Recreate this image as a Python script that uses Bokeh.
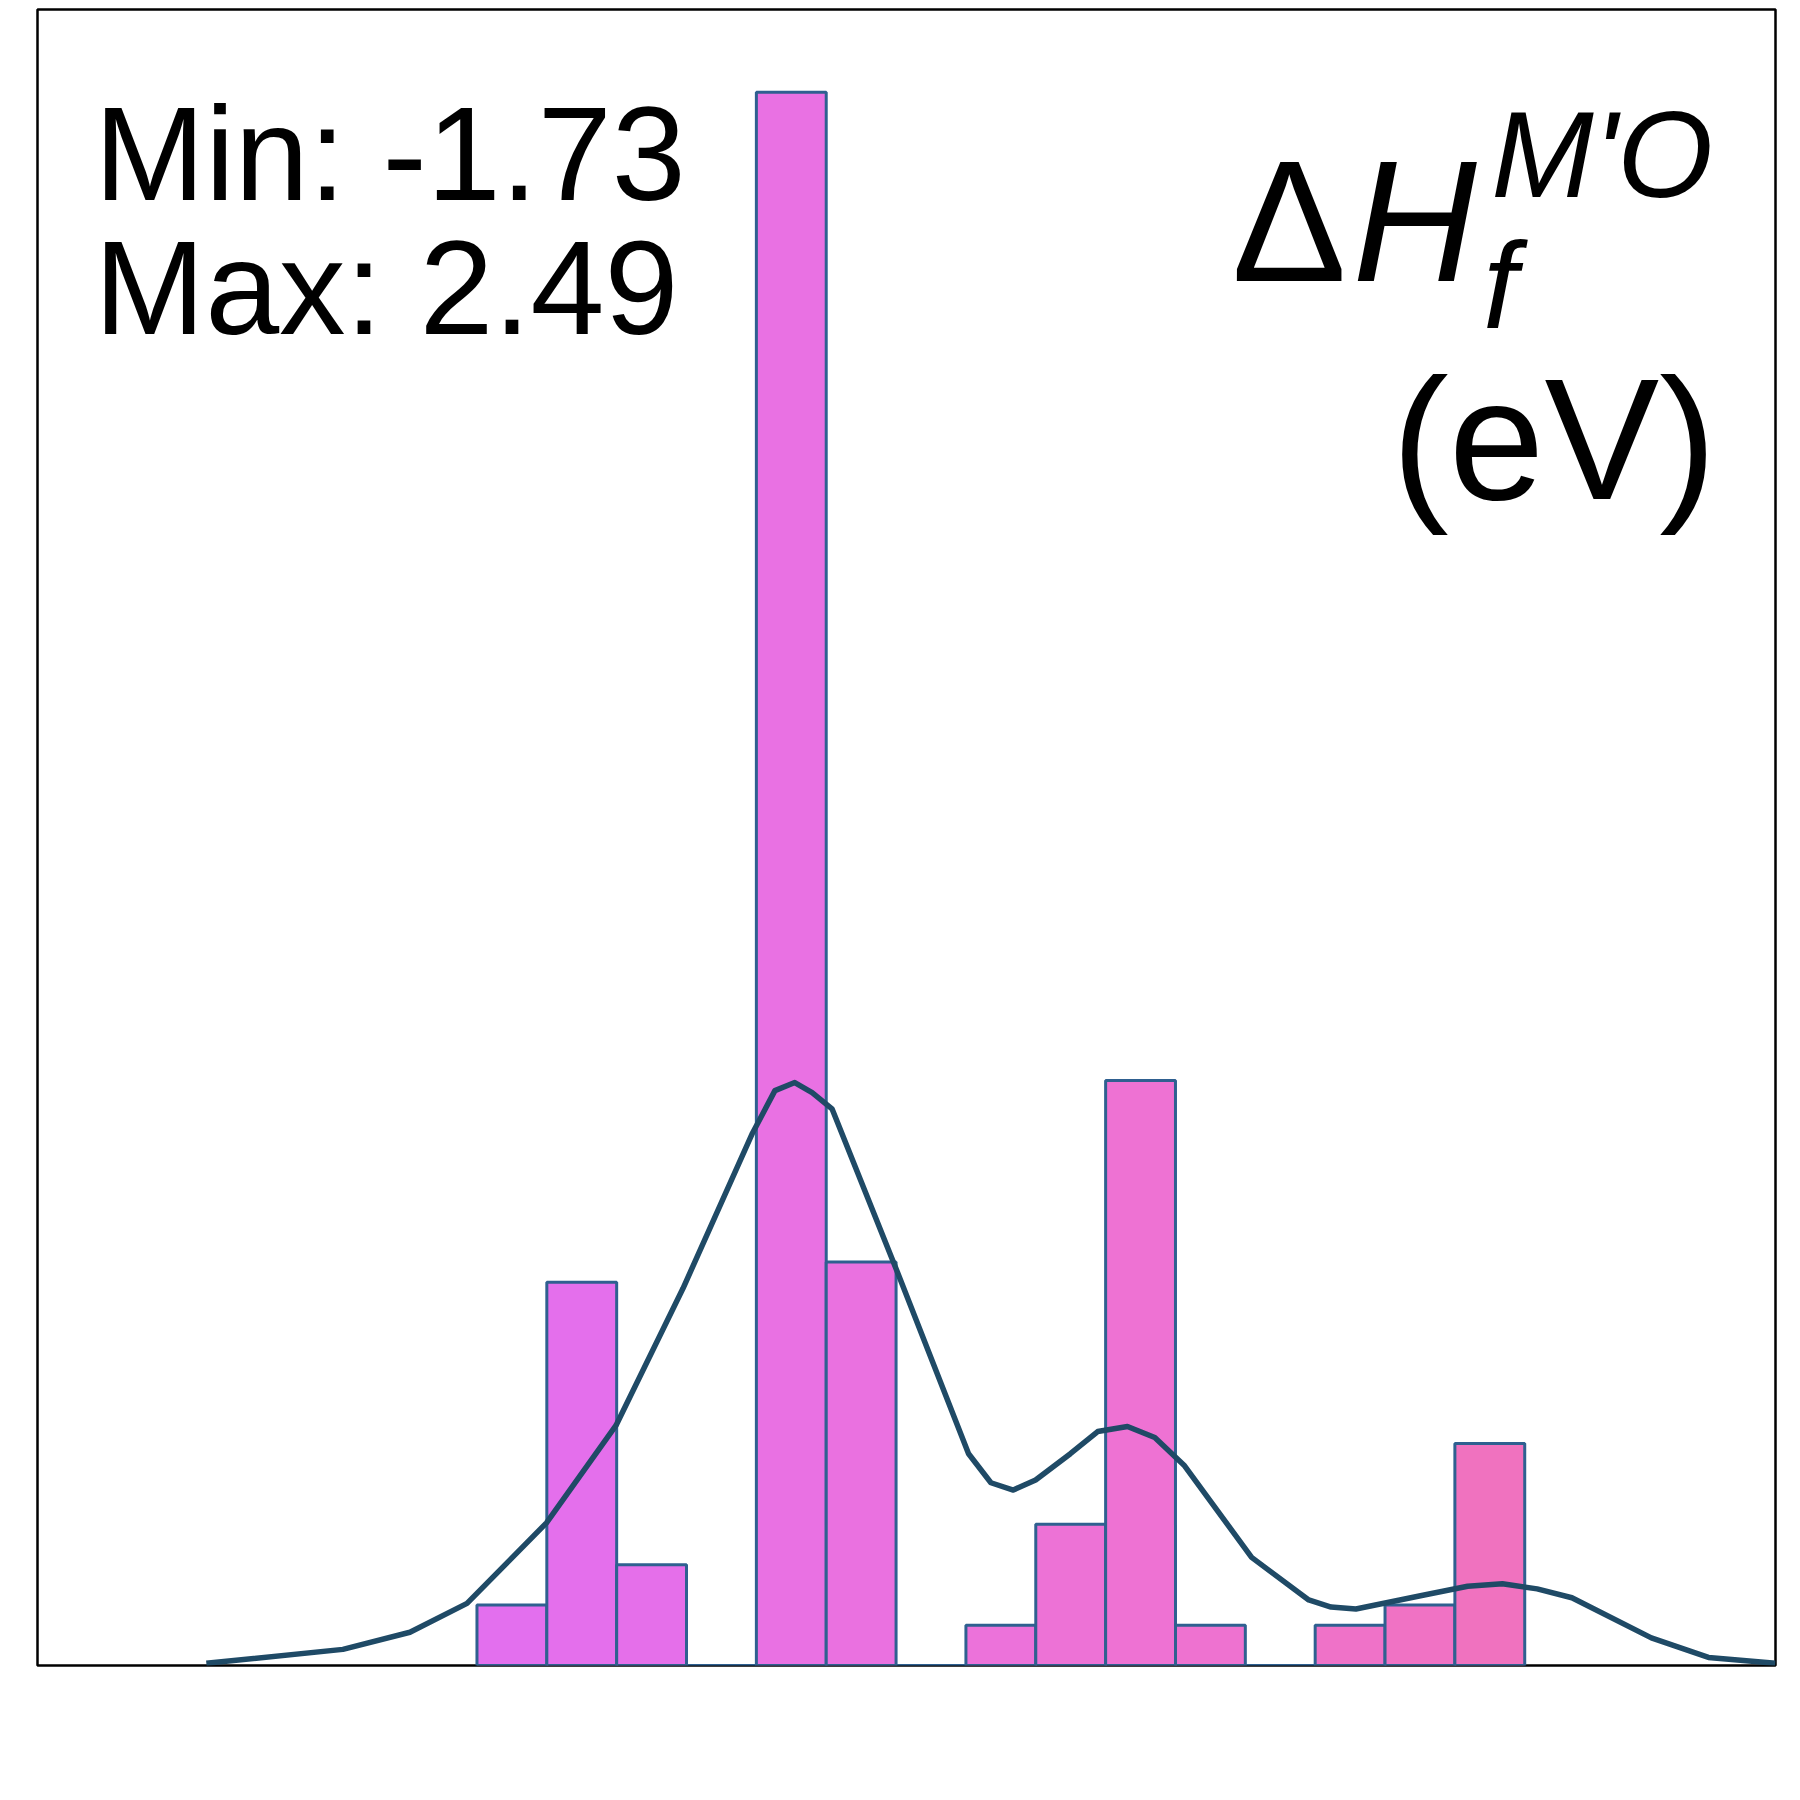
from bokeh.plotting import figure
from bokeh.models import Label
from bokeh.embed import file_html
from bokeh.resources import INLINE

# histogram (15 bins from min to max)
vmin, vmax = -1.73, 2.49
counts = [3, 19, 5, 0, 78, 20, 0, 2, 7, 29, 2, 0, 2, 3, 11]
colors = ["#E36FEE", "#E46FEC", "#E56FEA", "#E770E6", "#E971E3", "#EA71E0", "#EB72DD",
          "#EC72DA", "#ED72D6", "#EE72D3", "#EE72D0", "#EF72CC", "#EF72C8", "#F072C4", "#F072BF"]

# density curve
kde_x = [-2.82, -2.27, -2.00, -1.77, -1.45, -1.17, -0.90, -0.62, -0.53, -0.45, -0.38, -0.30,
         -0.03, 0.25, 0.34, 0.43, 0.52, 0.66, 0.77, 0.89, 1.00, 1.12, 1.39, 1.62, 1.71, 1.81,
         2.08, 2.26, 2.40, 2.54, 2.68, 3.00, 3.23, 3.50]
kde_y = [0.11, 0.8, 1.65, 3.08, 7.07, 11.9, 18.7, 26.4, 28.5, 28.9, 28.4, 27.6,
         19.3, 10.5, 9.06, 8.7, 9.2, 10.5, 11.6, 11.85, 11.3, 9.9, 5.36, 3.25, 2.9, 2.8,
         3.48, 3.93, 4.05, 3.8, 3.36, 1.37, 0.4, 0.11]

w = (vmax - vmin) / len(counts)
lefts = [vmin + i * w for i in range(len(counts))]
rights = [l + w for l in lefts]

p = figure(width=1784, height=1784, x_range=(-3.5, 3.5), y_range=(0, 82.1),
           output_backend="svg", toolbar_location=None,
           min_border_left=37, min_border_right=9, min_border_top=9, min_border_bottom=119)
p.axis.visible = False
p.grid.visible = False
p.outline_line_color = "black"
p.outline_line_width = 2.5

p.quad(left=lefts, right=rights, bottom=0, top=counts, fill_color=colors,
       line_color="#2F6090", line_width=3)
p.line(kde_x, kde_y, line_color="#1F4A66", line_width=5.5, line_join="round")

F = "Liberation Sans"
def lab(x, y, t, size, style="normal", align="left"):
    p.add_layout(Label(x=x, y=y, text=t, text_font=F, text_font_size=size,
                       text_font_style=style, text_align=align,
                       text_baseline="alphabetic", text_color="black"))

lab(-3.271, 74.93, "Min: -1.73", "133px")
lab(-3.271, 68.3, "Max: 2.49", "133px")
lab(1.310, 71.6, "Δ", "172px")
lab(1.796, 71.6, "H", "172px", "italic")
lab(2.355, 74.9, "M'O", "123px", "italic")
lab(2.322, 68.4, "f", "123px", "italic")
lab(3.262, 60.8, "(eV)", "172px", align="right")

open("out.html", "w").write(file_html(p, INLINE))
